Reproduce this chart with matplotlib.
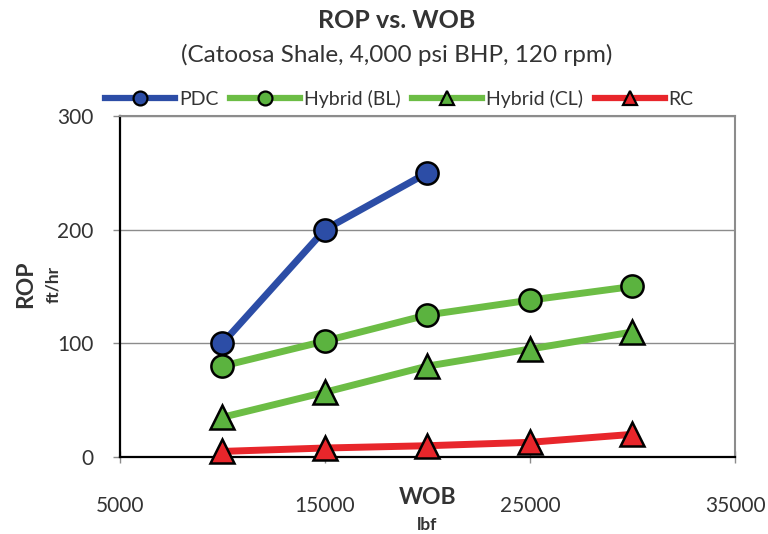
import matplotlib.pyplot as plt
from matplotlib.lines import Line2D

plt.rcParams['font.family'] = ['Lato', 'DejaVu Sans']

wob = [10000, 15000, 20000, 25000, 30000]
pdc = [100, 200, 250]
hybrid_bl = [80, 102, 125, 138, 150]
hybrid_cl = [35, 57, 80, 95, 110]
rc = [5, 8, 10, 13, 20]

x_ticks = [5000, 15000, 25000, 35000]
y_ticks = [0, 100, 200, 300]

blue = '#2C4DA6'
green = '#6CBD45'
green_mk = '#5BB33F'
red = '#E8262B'
text_c = '#333333'

fig = plt.figure(figsize=(7.68, 5.34), dpi=100)
ax = fig.add_axes([0.156, 0.144, 0.801, 0.639])

series = [
    (wob[:len(pdc)], pdc, blue, blue, 'o', 'PDC'),
    (wob, hybrid_bl, green, green_mk, 'o', 'Hybrid (BL)'),
    (wob, hybrid_cl, green, green_mk, '^', 'Hybrid (CL)'),
    (wob, rc, red, red, '^', 'RC'),
]
handles = []
for xs, ys, lc, mc, mk, lab in series:
    ms = 16 if mk == 'o' else 17
    ax.plot(xs, ys, color=lc, lw=5, marker=mk, ms=ms, mfc=mc,
            mec='black', mew=1.8, zorder=3, clip_on=False)
    handles.append(Line2D([], [], color=lc, lw=4.5, marker=mk,
                          ms=10 if mk == 'o' else 10.5, mfc=mc,
                          mec='black', mew=1.6, label=lab))

ax.set_xlim(5000, 35000)
ax.set_ylim(0, 300)
ax.set_xticks(x_ticks)
ax.set_yticks(y_ticks)
ax.yaxis.grid(True, color='#8c8c8c', lw=1.0)
ax.set_axisbelow(True)

for side in ['top', 'right']:
    ax.spines[side].set_color('#8c8c8c')
    ax.spines[side].set_linewidth(1.5)
for side in ['left', 'bottom']:
    ax.spines[side].set_color('black')
    ax.spines[side].set_linewidth(1.6)

ax.tick_params(axis='x', direction='inout', length=8, width=1, color='#8c8c8c',
               pad=24, labelsize=15, labelcolor=text_c)
ax.tick_params(axis='y', direction='out', length=5, width=1, color='#8c8c8c',
               pad=14, labelsize=15, labelcolor=text_c)

# axis titles
xt = ax.get_xaxis_transform()
ax.text(20000, -0.118, 'WOB', transform=xt, ha='center', va='center',
        fontsize=16.5, fontweight='bold', color=text_c)
ax.text(20000, -0.198, 'lbf', transform=xt, ha='center', va='center',
        fontsize=12.5, fontweight='bold', color=text_c)
yt = ax.get_yaxis_transform()
ax.text(-0.153, 152, 'ROP', transform=yt, rotation=90, ha='center', va='center',
        fontsize=16.5, fontweight='bold', color=text_c)
ax.text(-0.109, 152, 'ft/hr', transform=yt, rotation=90, ha='center', va='center',
        fontsize=12.5, fontweight='bold', color=text_c)

fig.text(0.516, 0.962, 'ROP vs. WOB', ha='center', va='center',
         fontsize=18, fontweight='bold', color=text_c)
fig.text(0.516, 0.897, '(Catoosa Shale, 4,000 psi BHP, 120 rpm)', ha='center',
         va='center', fontsize=17.5, color=text_c)

fig.legend(handles=handles, loc='center', bbox_to_anchor=(0.52, 0.815), ncol=4,
           frameon=False, fontsize=14, handlelength=3.6, handletextpad=0.2,
           columnspacing=0.6, labelcolor=text_c)

fig.savefig('out.png', dpi=100)
